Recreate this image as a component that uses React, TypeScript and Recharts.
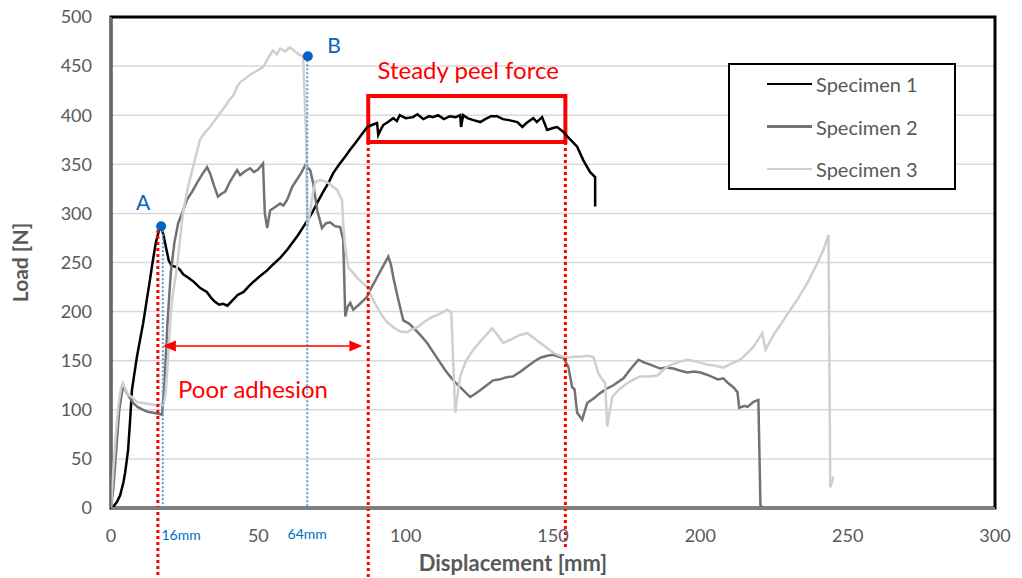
import {
  LineChart,
  Line,
  XAxis,
  YAxis,
  CartesianGrid,
  Legend,
  ReferenceLine,
  ReferenceArea,
  ReferenceDot,
} from "recharts";

const xTicks = [0, 50, 100, 150, 200, 250, 300];
const yTicks = [0, 50, 100, 150, 200, 250, 300, 350, 400, 450, 500];

// [displacement mm, load N]
const specimen1: [number, number][] = [
  [0, 0], [0.7, 1], [2, 6], [3.1, 13], [4.2, 26], [4.8, 36], [5.8, 59], [6.5, 90],
  [7.1, 120], [8.8, 154], [10.9, 188], [13.2, 232], [14.1, 250], [15.2, 270],
  [16.3, 283], [17, 287], [17.8, 278], [18.9, 262], [19.6, 252], [20.5, 247],
  [22.4, 245], [23.3, 243], [24.5, 238], [26.5, 234], [28.2, 230], [30.3, 224],
  [32.5, 220], [34, 214], [35.3, 210], [36.7, 207], [38, 208], [39.5, 206],
  [41.4, 212], [43, 217], [45, 220], [46.8, 226], [48.2, 230], [50.5, 236],
  [53, 242], [55, 248], [57.5, 255], [59.8, 263], [62, 272], [63.5, 278],
  [65.2, 286], [66.7, 293], [68.5, 302], [70, 311], [72, 322], [73.8, 331],
  [75.4, 341], [77.5, 350], [79.5, 358], [81.2, 365], [83, 372], [85, 380],
  [87, 388], [88.5, 390], [90.3, 392], [90.7, 380], [91.5, 385], [92.4, 390],
  [94, 393], [95.8, 397], [97, 394], [98, 400], [100, 397], [102.5, 398],
  [104, 401], [106, 396], [108, 399], [109.3, 398], [111, 400], [113, 396],
  [115, 399], [117, 398], [118.5, 400], [118.8, 388], [119.5, 400], [121, 397],
  [123, 395], [125.3, 393], [127, 396], [129, 399], [131, 399], [133, 396],
  [135, 395], [137.9, 393], [139.6, 388], [141, 392], [143.3, 397], [144.5, 393],
  [146.3, 398], [148, 385], [150, 387], [151.4, 388], [153.5, 383], [155.9, 375],
  [158.2, 368], [160.3, 354], [162.6, 342], [164.3, 337], [164.3, 307],
];

const specimen2: [number, number][] = [
  [0, 0], [0.8, 20], [1.8, 60], [2.8, 100], [4.1, 125], [5.2, 118], [6.5, 112],
  [7.5, 107], [9, 103], [10.9, 100], [12.5, 98], [14.3, 97], [16, 96], [17.3, 95],
  [18.2, 130], [19.2, 190], [20.3, 240], [21.5, 270], [22.8, 290], [24.1, 300],
  [25.8, 314], [27.5, 322], [29.2, 331], [31, 340], [32.6, 347], [33.6, 341],
  [35, 328], [36.3, 317], [37.5, 320], [38.7, 322], [40.5, 333], [42.8, 344],
  [43.8, 339], [45.5, 343], [47.2, 346], [48.5, 342], [50, 345], [51.6, 351],
  [52.2, 300], [53, 285], [54, 303], [55.5, 306], [57.4, 310], [58.5, 308],
  [59.8, 314], [61.5, 327], [63, 334], [64.5, 341], [65.9, 349], [67.6, 344],
  [68.6, 331], [70, 303], [71.6, 285], [73, 290], [74.4, 291], [76, 287],
  [77.8, 286], [78.8, 273], [79.2, 230], [79.5, 195], [80.3, 205], [81.2, 209],
  [82.2, 202], [84.5, 208], [86.9, 215], [88.5, 225], [90.3, 235], [92.3, 246],
  [94.1, 256], [95, 248], [95.8, 235], [97.5, 212], [99.2, 191], [101, 188],
  [102.5, 184], [105, 176], [107.3, 168], [109.5, 158], [111.7, 148], [113.5, 140],
  [115.1, 134], [116.8, 128], [118.5, 123], [120.2, 118], [121.9, 113], [123.5, 116],
  [125.3, 120], [127.5, 125], [129.7, 130], [132, 131], [134, 133], [136.5, 134],
  [139, 139], [141.3, 144], [143.5, 149], [145.7, 153], [148, 155], [150.1, 156],
  [152, 154], [153.5, 153], [155.2, 144], [156.5, 123], [157.3, 121], [158.2, 97],
  [159.9, 90], [161.6, 107], [164, 112], [166, 117], [168, 121], [170.5, 125],
  [173.9, 132], [176.2, 141], [179, 151], [181, 148], [183, 146], [186.4, 142],
  [188.5, 143], [190.8, 142], [193, 140], [195.6, 138], [198, 139], [200, 138],
  [202, 136], [204.4, 133], [206, 131], [207.8, 132], [209.5, 127], [211.2, 123],
  [212.6, 118], [213.2, 102], [215, 104], [216, 103], [218, 108], [219.7, 110],
  [220.4, 3], [221, 0],
];

const specimen3: [number, number][] = [
  [0, 0], [0.6, 30], [1.5, 70], [2.5, 105], [3.4, 122], [4.1, 127], [5, 120],
  [6, 115], [7.1, 113], [8.8, 108], [10.9, 107], [13, 106], [15, 105], [17.7, 105],
  [18.5, 115], [19.3, 150], [20, 185], [20.7, 212], [22.4, 245], [24.4, 300],
  [26, 325], [27.8, 347], [30.2, 375], [31.8, 382], [33.6, 388], [35.5, 396],
  [37, 402], [38.5, 408], [40, 415], [41.5, 420], [42.8, 429], [44, 434],
  [45.5, 437], [47, 441], [48.2, 443], [50, 446], [51.6, 449], [53.3, 458],
  [55, 466], [56.3, 462], [57.4, 468], [59, 465], [60.8, 469], [62, 466],
  [63.2, 463], [64.4, 461], [65.2, 460], [66.2, 380], [66.6, 286], [67.5, 300],
  [68.5, 320], [69.3, 332], [71, 334], [73.3, 332], [75, 328], [76.7, 324],
  [77.5, 319], [78.4, 314], [78.8, 290], [79.5, 265], [80.5, 245], [82, 240],
  [84, 233], [86.9, 225], [89, 212], [91.3, 199], [93.5, 190], [95.8, 184],
  [98, 180], [100.5, 179], [102, 182], [103.9, 184], [106.5, 190], [109.3, 195],
  [111.7, 198], [114.1, 202], [115.5, 199], [116, 160], [116.8, 97], [117.6, 115],
  [118.5, 134], [120.5, 150], [122.9, 161], [126, 172], [129.4, 183], [131, 177],
  [133.1, 168], [136, 172], [138.5, 176], [141.3, 178], [143.5, 173], [145.7, 168],
  [148, 163], [150.1, 158], [152.5, 155], [154.8, 153], [157, 154], [159.3, 154],
  [161.5, 155], [163.7, 154], [165.4, 137], [166.5, 132], [167.7, 127], [168.4, 83],
  [170.1, 113], [172.5, 121], [175.2, 127], [177.5, 131], [179.6, 134], [182.5, 134],
  [185.4, 135], [188.8, 144], [192, 148], [195.6, 151], [199, 149], [202.4, 146],
  [205, 145], [207.8, 143], [210.5, 147], [213.6, 151], [216, 158], [218, 164],
  [221, 178], [222.1, 161], [224.8, 176], [227.5, 188], [230.6, 202], [233.5, 215],
  [236.3, 229], [239, 245], [241.8, 263], [243.5, 278], [244.1, 21], [245.2, 32],
];

const toRows = (pts: [number, number][]) => pts.map(([x, y]) => ({ x, y }));

const series = [
  { name: "Specimen 1", data: toRows(specimen1), color: "#000000" },
  { name: "Specimen 2", data: toRows(specimen2), color: "#767171" },
  { name: "Specimen 3", data: toRows(specimen3), color: "#d0cece" },
];

const FONT = "Lato, 'Open Sans', sans-serif";
const RED = "#ff0000";
const BLUE_DOT = "#0563c1";
const BLUE_LINE = "#5b9bd5";

const textShape =
  (text: string, color: string, size: number) =>
  (props: any) =>
    (
      <text
        x={props.cx}
        y={props.cy}
        fill={color}
        fontSize={size}
        fontFamily={FONT}
        textAnchor="middle"
        dominantBaseline="central"
      >
        {text}
      </text>
    );

const DoubleArrow = (props: any) => {
  const { x1, y1, x2, y2 } = props;
  const h = 13;
  const w = 5.5;
  return (
    <g>
      <line x1={x1 + h} y1={y1} x2={x2 - h} y2={y2} stroke={RED} strokeWidth={1.5} />
      <polygon points={`${x1},${y1} ${x1 + h},${y1 - w} ${x1 + h},${y1 + w}`} fill={RED} />
      <polygon points={`${x2},${y2} ${x2 - h},${y2 - w} ${x2 - h},${y2 + w}`} fill={RED} />
    </g>
  );
};

const LegendBox = () => (
  <div
    style={{
      position: "relative",
      border: "2px solid #000",
      boxSizing: "border-box",
      width: 228,
      height: 127,
      fontFamily: FONT,
      background: "#fff",
    }}
  >
    {series.map((s, i) => (
      <div
        key={s.name}
        style={{
          position: "absolute",
          left: 0,
          top: 19 + i * 42.5 - 14,
          height: 28,
          display: "flex",
          alignItems: "center",
        }}
      >
        <div
          style={{
            marginLeft: 37,
            width: 45,
            height: s.color === "#d0cece" ? 2 : 2.5,
            background: s.color,
          }}
        />
        <span style={{ marginLeft: 4, fontSize: 20, color: "#595959" }}>{s.name}</span>
      </div>
    ))}
  </div>
);

const App = () => {
  return (
    <div style={{ position: "absolute", left: 0, top: 0, background: "#fff" }}>
      <LineChart
        width={1022}
        height={578}
        margin={{ top: 17, right: 27, bottom: 0, left: 0 }}
        style={{ fontFamily: FONT }}
      >
        <CartesianGrid horizontal vertical={false} stroke="#d9d9d9" strokeWidth={1.5} />
        <XAxis
          type="number"
          dataKey="x"
          domain={[0, 300]}
          ticks={xTicks}
          height={70}
          tickLine={false}
          tickMargin={15}
          axisLine={{ stroke: "#7f7f7f", strokeWidth: 2 }}
          tick={{ fill: "#595959", fontSize: 18, fontFamily: FONT }}
          allowDataOverflow
          label={{
            value: "Displacement [mm]",
            position: "insideBottom",
            offset: 7,
            dx: -40,
            fill: "#595959",
            fontSize: 22,
            fontWeight: 700,
            fontFamily: FONT,
          }}
        />
        <YAxis
          type="number"
          domain={[0, 500]}
          ticks={yTicks}
          width={111}
          tickLine={false}
          tickMargin={13}
          axisLine={{ stroke: "#8c8c8c", strokeWidth: 1.5 }}
          tick={{ fill: "#595959", fontSize: 18, fontFamily: FONT }}
          label={{
            value: "Load [N]",
            angle: -90,
            position: "insideLeft",
            offset: 21,
            fill: "#595959",
            fontSize: 21,
            fontWeight: 700,
            fontFamily: FONT,
            style: { textAnchor: "middle" },
          }}
        />
        <ReferenceArea
          x1={0}
          x2={300}
          y1={0}
          y2={500}
          fill="none"
          stroke="#000"
          strokeWidth={3}
          ifOverflow="visible"
        />
        {series.map((s) => (
          <Line
            key={s.name}
            data={s.data}
            dataKey="y"
            name={s.name}
            type="linear"
            stroke={s.color}
            strokeWidth={2.5}
            dot={false}
            activeDot={false}
            isAnimationActive={false}
          />
        ))}
        <ReferenceArea
          x1={87.3}
          x2={154.2}
          y1={372.7}
          y2={419.6}
          fill="none"
          stroke={RED}
          strokeWidth={4}
          ifOverflow="visible"
        />
        <ReferenceLine
          segment={[{ x: 15.9, y: 283 }, { x: 15.9, y: -72 }]}
          stroke={RED}
          strokeWidth={3}
          strokeDasharray="3 3"
          ifOverflow="visible"
        />
        <ReferenceLine
          segment={[{ x: 87.3, y: 372.7 }, { x: 87.3, y: -72 }]}
          stroke={RED}
          strokeWidth={3}
          strokeDasharray="3 3"
          ifOverflow="visible"
        />
        <ReferenceLine
          segment={[{ x: 154.2, y: 372.7 }, { x: 154.2, y: -41 }]}
          stroke={RED}
          strokeWidth={3}
          strokeDasharray="3 3"
          ifOverflow="visible"
        />
        <ReferenceLine
          segment={[{ x: 17.6, y: 287 }, { x: 17.6, y: 0 }]}
          stroke={BLUE_LINE}
          strokeWidth={2}
          strokeDasharray="2 2"
          ifOverflow="visible"
        />
        <ReferenceLine
          segment={[{ x: 66.6, y: 460 }, { x: 66.6, y: 0 }]}
          stroke={BLUE_LINE}
          strokeWidth={2}
          strokeDasharray="2 2"
          ifOverflow="visible"
        />
        <ReferenceLine
          segment={[{ x: 17.6, y: 165 }, { x: 85.3, y: 165 }]}
          shape={DoubleArrow}
          ifOverflow="visible"
        />
        <ReferenceDot x={17} y={287} r={5} fill={BLUE_DOT} stroke="none" ifOverflow="visible" />
        <ReferenceDot x={66.8} y={460} r={5} fill={BLUE_DOT} stroke="none" ifOverflow="visible" />
        <ReferenceDot x={10.9} y={312.5} r={0} ifOverflow="visible" shape={textShape("A", "#0563c1", 21)} />
        <ReferenceDot x={75.7} y={472.5} r={0} ifOverflow="visible" shape={textShape("B", "#0563c1", 21)} />
        <ReferenceDot
          x={121.2}
          y={447}
          r={0}
          ifOverflow="visible"
          shape={textShape("Steady peel force", RED, 24)}
        />
        <ReferenceDot
          x={48.2}
          y={122}
          r={0}
          ifOverflow="visible"
          shape={textShape("Poor adhesion", RED, 24)}
        />
        <ReferenceDot x={23.8} y={-26.5} r={0} ifOverflow="visible" shape={textShape("16mm", "#0070c0", 14)} />
        <ReferenceDot x={66.6} y={-25.5} r={0} ifOverflow="visible" shape={textShape("64mm", "#0070c0", 14)} />
        <Legend
          layout="vertical"
          align="center"
          verticalAlign="middle"
          content={() => <LegendBox />}
          wrapperStyle={{ left: 728, top: 63, width: 228, height: 127 }}
        />
      </LineChart>
    </div>
  );
};

export default App;
